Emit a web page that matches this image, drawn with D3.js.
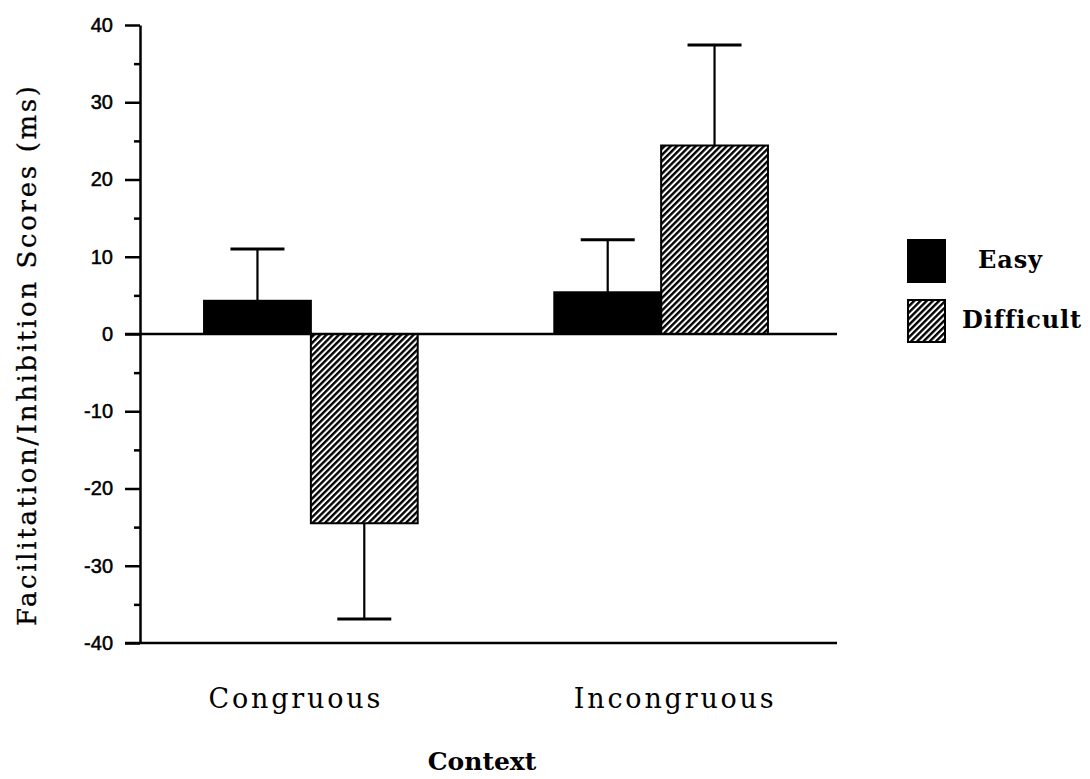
<!DOCTYPE html>
<html>
<head>
<meta charset="utf-8">
<script src="https://cdn.jsdelivr.net/npm/d3@7"></script>
<style>
  body { margin: 0; background: #fff; }
  svg { display: block; }
</style>
</head>
<body>
<div id="chart"></div>
<script>
// values
var categories = ['Congruous', 'Incongruous'];
var seriesNames = ['Easy', 'Difficult'];
var easyMeans = [4.3, 5.4];
var easyErr = [6.7, 6.8];
var difficultMeans = [-24.5, 24.4];
var difficultErr = [12.4, 13.0];
var yMajorTicks = [-40, -30, -20, -10, 0, 10, 20, 30, 40];
var yMinorTicks = [-35, -25, -15, -5, 5, 15, 25, 35];

var width = 1090, height = 779;

var rows = [];
categories.forEach(function(c, i) {
	rows.push({cat: c, series: 'Easy', mean: easyMeans[i], err: easyErr[i]});
	rows.push({cat: c, series: 'Difficult', mean: difficultMeans[i], err: difficultErr[i]});
});

var svg = d3.select('#chart').append('svg')
	.attr('width', width)
	.attr('height', height);

var defs = svg.append('defs');
defs.append('pattern')
	.attr('id', 'hatch')
	.attr('patternUnits', 'userSpaceOnUse')
	.attr('width', 4.4)
	.attr('height', 4.4)
	.attr('patternTransform', 'rotate(45)')
	.append('rect')
	.attr('width', 2.4)
	.attr('height', 4.4)
	.attr('fill', '#000');

var x = d3.scaleBand().domain(categories).range([134, 838])
	.paddingInner(0.39).paddingOuter(0.2);
var xs = d3.scaleBand().domain(seriesNames).range([0, x.bandwidth()]);
var y = d3.scaleLinear().domain([-40, 40]).range([643, 25]);

// minor ticks
svg.append('g')
	.attr('transform', 'translate(140,0)')
	.call(d3.axisLeft(y).tickValues(yMinorTicks).tickSize(6).tickFormat(''))
	.call(function(g) { g.select('.domain').remove(); })
	.selectAll('line').attr('stroke-width', 2.5);

// major ticks + labels
var yAxis = svg.append('g')
	.attr('transform', 'translate(140,0)')
	.call(d3.axisLeft(y).tickValues(yMajorTicks).tickSize(15).tickSizeOuter(0).tickPadding(12)
		.tickFormat(function(d) { return String(d); }));
yAxis.select('.domain').attr('stroke-width', 2.5);
yAxis.selectAll('line').attr('stroke-width', 2.5);
yAxis.selectAll('text')
	.attr('font-family', '"Liberation Sans", Arial, sans-serif')
	.attr('font-size', 20)
	.attr('fill', '#000')
	.attr('stroke', '#000')
	.attr('stroke-width', 0.5);

// bottom line
svg.append('line')
	.attr('x1', 125).attr('x2', 837)
	.attr('y1', y(-40)).attr('y2', y(-40))
	.attr('stroke', '#000').attr('stroke-width', 2.5);

// bars
var bars = svg.append('g');
bars.selectAll('rect')
	.data(rows)
	.enter().append('rect')
	.attr('x', function(d) { return x(d.cat) + xs(d.series); })
	.attr('y', function(d) { return y(Math.max(0, d.mean)); })
	.attr('width', xs.bandwidth())
	.attr('height', function(d) { return Math.abs(y(d.mean) - y(0)); })
	.attr('fill', function(d) { return d.series === 'Easy' ? '#000' : 'url(#hatch)'; })
	.attr('stroke', '#000')
	.attr('stroke-width', 2);

// zero line
svg.append('line')
	.attr('x1', 125).attr('x2', 837)
	.attr('y1', y(0)).attr('y2', y(0))
	.attr('stroke', '#000').attr('stroke-width', 2.5);

// error bars (one side, away from zero)
var capW = 54;
var err = svg.append('g');
rows.forEach(function(d) {
	var cx = x(d.cat) + xs(d.series) + xs.bandwidth() / 2;
	var end = d.mean >= 0 ? d.mean + d.err : d.mean - d.err;
	err.append('line')
		.attr('x1', cx).attr('x2', cx)
		.attr('y1', y(d.mean)).attr('y2', y(end))
		.attr('stroke', '#000').attr('stroke-width', 2.2);
	err.append('line')
		.attr('x1', cx - capW / 2).attr('x2', cx + capW / 2)
		.attr('y1', y(end)).attr('y2', y(end))
		.attr('stroke', '#000').attr('stroke-width', 3);
});

// category labels (spread a little outward, as in the figure)
svg.append('g').selectAll('text')
	.data(categories)
	.enter().append('text')
	.attr('x', function(d, i) { return x(d) + x.bandwidth() / 2 + (i === 0 ? -15 : 14); })
	.attr('y', 708)
	.attr('text-anchor', 'middle')
	.attr('font-family', '"DejaVu Serif", serif')
	.attr('font-size', 27)
	.attr('letter-spacing', 2.8)
	.text(function(d) { return d; });

svg.append('text')
	.attr('x', 482)
	.attr('y', 770)
	.attr('text-anchor', 'middle')
	.attr('font-family', '"DejaVu Serif", serif')
	.attr('font-weight', 'bold')
	.attr('font-size', 25)
	.text('Context');

svg.append('text')
	.attr('transform', 'translate(36,356) rotate(-90)')
	.attr('text-anchor', 'middle')
	.attr('font-family', '"DejaVu Serif", serif')
	.attr('font-size', 26)
	.attr('textLength', 540)
	.attr('lengthAdjust', 'spacing')
	.attr('stroke', '#000')
	.attr('stroke-width', 0.3)
	.text('Facilitation/Inhibition Scores (ms)');

// legend
var legend = svg.append('g');
var legendY = [240, 300];
seriesNames.forEach(function(s, i) {
	legend.append('rect')
		.attr('x', 908).attr('y', legendY[i])
		.attr('width', 37).attr('height', 42)
		.attr('fill', s === 'Easy' ? '#000' : 'url(#hatch)')
		.attr('stroke', '#000').attr('stroke-width', 2);
	legend.append('text')
		.attr('x', s === 'Easy' ? 978 : 962)
		.attr('y', legendY[i] + 28)
		.attr('font-family', '"DejaVu Serif", serif')
		.attr('font-weight', 'bold')
		.attr('font-size', 24)
		.attr('letter-spacing', 0.9)
		.text(s);
});
</script>
</body>
</html>
